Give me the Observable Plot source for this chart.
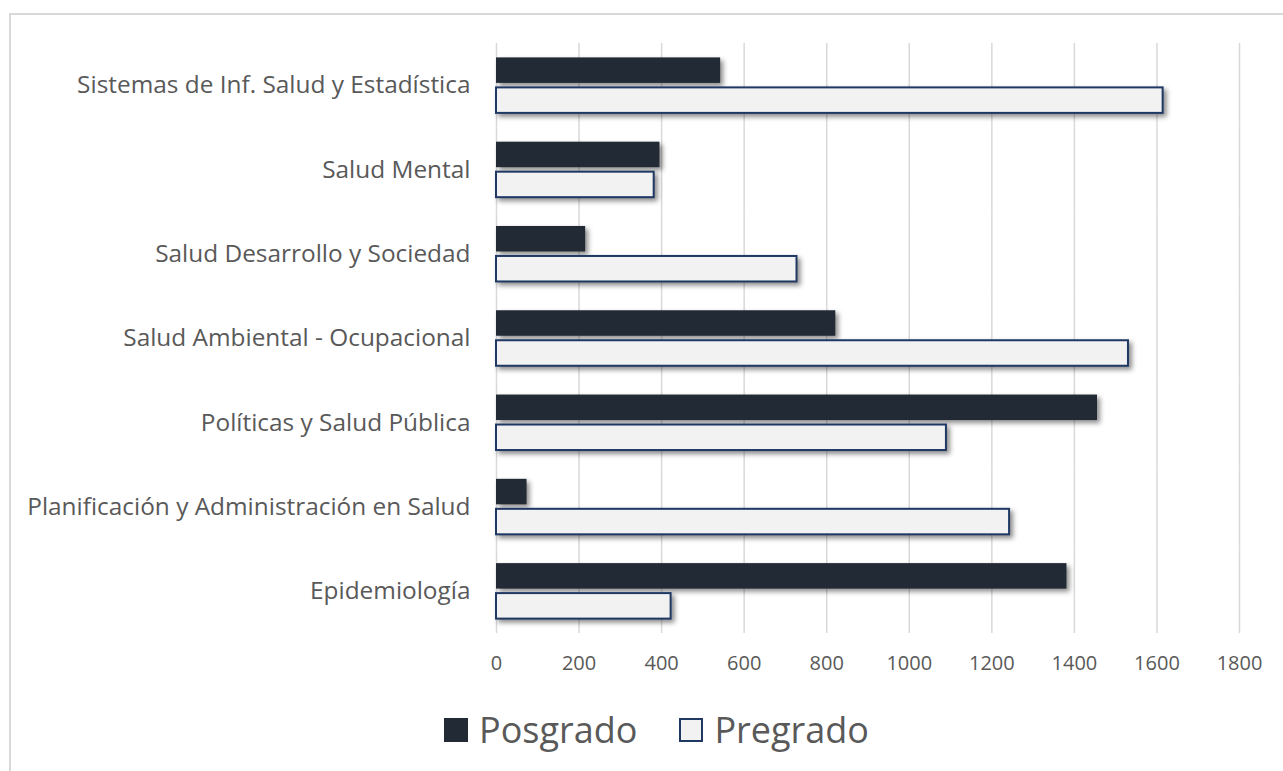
<!DOCTYPE html>
<html>
<head>
<meta charset="utf-8">
<script src="https://cdn.jsdelivr.net/npm/d3@7"></script>
<script src="https://cdn.jsdelivr.net/npm/@observablehq/plot@0.6"></script>
<style>
  html, body { margin: 0; padding: 0; background: #ffffff; }
  body { width: 1283px; height: 771px; position: relative; overflow: hidden; font-family: "Open Sans", sans-serif; }
  #frame { position: absolute; left: 9px; top: 13px; width: 1400px; height: 900px;
           border-left: 2px solid #d9d9d9; border-top: 2px solid #d9d9d9; box-sizing: border-box; }
  #chart { position: absolute; left: 0; top: 0; }
  #chart svg g[aria-label="bar"] { filter: drop-shadow(3px 3px 2.5px rgba(0,0,0,0.45)); }
  #legend { position: absolute; left: 444px; top: 708px; display: flex; align-items: center;
            color: #595959; font-size: 36px; line-height: 44px; }
  .sw { width: 24px; height: 24px; box-sizing: border-box; margin-right: 11px; }
  .item { display: flex; align-items: center; margin-right: 42px; }
</style>
</head>
<body>
<div id="frame"></div>
<div id="chart"></div>
<div id="legend"></div>
<script>
const categories = [
  "Sistemas de Inf. Salud y Estadística",
  "Salud Mental",
  "Salud Desarrollo y Sociedad",
  "Salud Ambiental - Ocupacional",
  "Políticas y Salud Pública",
  "Planificación y Administración en Salud",
  "Epidemiología"
];
const series = ["Posgrado", "Pregrado"];
const posgrado = [543, 396, 216, 822, 1456, 74, 1382];
const pregrado = [1615, 382, 728, 1531, 1090, 1243, 423];
const xTicks = [0, 200, 400, 600, 800, 1000, 1200, 1400, 1600, 1800];

const fills = {Posgrado: "#222a35", Pregrado: "#f2f2f2"};
const strokes = {Posgrado: "none", Pregrado: "#1f3864"};

const data = categories.flatMap((c, i) => [
  {cat: c, serie: "Posgrado", value: posgrado[i]},
  {cat: c, serie: "Pregrado", value: pregrado[i]}
]);

const chart = Plot.plot({
  width: 1283,
  height: 700,
  marginLeft: 496,
  marginRight: 44,
  marginTop: 43,
  marginBottom: 67,
  style: {fontFamily: "'Open Sans', sans-serif", color: "#595959", background: "transparent", overflow: "visible"},
  x: {domain: [0, 1800]},
  fy: {domain: categories, padding: 0, round: false},
  y: {domain: series, paddingInner: 0.15, paddingOuter: 0.48, round: false, axis: null},
  marks: [
    Plot.gridX(xTicks, {stroke: "#d9d9d9", strokeOpacity: 1, strokeWidth: 1.5}),
    Plot.barX(data, {
      x: "value", y: "serie", fy: "cat",
      fill: d => fills[d.serie],
      stroke: d => strokes[d.serie],
      strokeWidth: 2
    }),
    Plot.axisX(xTicks, {anchor: "bottom", tickSize: 0, tickPadding: 22, fontSize: 20, fill: "#595959", label: null, tickFormat: d => String(d)}),
    Plot.axisFy({anchor: "left", tickSize: 0, tickPadding: 26, fontSize: 24.4, fill: "#595959", label: null})
  ]
});
document.getElementById("chart").appendChild(chart);

const legend = document.getElementById("legend");
series.forEach(s => {
  const item = document.createElement("div");
  item.className = "item";
  const sw = document.createElement("div");
  sw.className = "sw";
  sw.style.background = fills[s];
  if (strokes[s] !== "none") sw.style.border = "2px solid " + strokes[s];
  const t = document.createElement("span");
  t.textContent = s;
  item.appendChild(sw);
  item.appendChild(t);
  legend.appendChild(item);
});
</script>
</body>
</html>
